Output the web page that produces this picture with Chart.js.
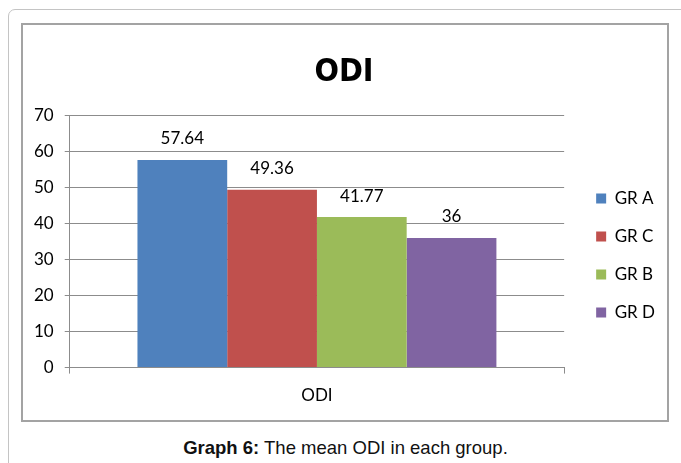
<!DOCTYPE html>
<html>
<head>
<meta charset="utf-8">
<script src="https://cdn.jsdelivr.net/npm/chart.js@4"></script>
<style>
  body { margin: 0; background: #fff; width: 681px; height: 463px; overflow: hidden; position: relative; }
  #frame { position: absolute; left: 8px; top: 9px; width: 720px; height: 520px; border: 1.5px solid #c4c4c4; border-radius: 7px; }
  #box { position: absolute; left: 21px; top: 23px; width: 648px; height: 399px; border: 2px solid #a3a3a3; box-sizing: border-box; }
  #chart { position: absolute; left: -2px; top: 0; }
  #caption { position: absolute; left: 5px; width: 681px; top: 437px; text-align: center;
             font-family: "Liberation Sans", Arial, sans-serif; font-size: 18.5px; color: #111; }
</style>
</head>
<body>
<div id="frame"></div>
<div id="box"><canvas id="chart" width="644" height="395"></canvas></div>
<div id="caption"><b>Graph 6:</b> The mean ODI in each group.</div>
<script>
const categories = ['ODI'];
const groups = ['GR A', 'GR C', 'GR B', 'GR D'];
const means = [57.64, 49.36, 41.77, 36];
const colors = ['#4f81bd', '#c0504d', '#9bbb59', '#8064a2'];
const yTicks = [0, 10, 20, 30, 40, 50, 60, 70];

const font = '"Lato", "Open Sans", sans-serif';

// value labels above every bar
const barLabels = {
    id: 'barLabels',
    afterDatasetsDraw(chart) {
        const ctx = chart.ctx;
        ctx.save();
        ctx.font = '17px ' + font;
        ctx.fillStyle = '#000';
        ctx.textAlign = 'center';
        ctx.textBaseline = 'middle';
        chart.data.datasets.forEach((ds, i) => {
            chart.getDatasetMeta(i).data.forEach((bar, j) => {
                ctx.fillText(String(ds.data[j]), bar.x, bar.y - 21);
            });
        });
        ctx.restore();
    }
};

new Chart(document.getElementById('chart'), {
    type: 'bar',
    data: {
        labels: categories,
        datasets: groups.map((g, i) => ({
            label: g,
            data: [means[i]],
            backgroundColor: colors[i],
            borderWidth: 0
        }))
    },
    options: {
        responsive: false,
        animation: false,
        devicePixelRatio: 1,
        categoryPercentage: 0.726,
        barPercentage: 1,
        layout: { padding: { left: 2, right: 0, top: 0, bottom: 2 } },
        plugins: {
            title: {
                display: true,
                text: 'ODI',
                color: '#000',
                font: { family: '"Liberation Sans Narrow", "DejaVu Sans Condensed", sans-serif', size: 32, weight: 'bold' },
                padding: { top: 28, bottom: 24 }
            },
            legend: {
                position: 'right',
                title: { display: true, text: '', font: { size: 10 }, padding: { top: 27, bottom: 29 } },
                labels: {
                    boxWidth: 10,
                    boxHeight: 10,
                    padding: 21,
                    color: '#000',
                    font: { family: font, size: 17 }
                }
            },
            tooltip: { enabled: false }
        },
        scales: {
            x: {
                grid: {
                    display: true,
                    drawOnChartArea: false,
                    offset: true,
                    tickLength: 6,
                    color: '#8c8c8c'
                },
                border: { color: '#8c8c8c', width: 1 },
                ticks: {
                    color: '#000',
                    padding: 12,
                    font: { family: font, size: 17 }
                }
            },
            y: {
                min: yTicks[0],
                max: yTicks[yTicks.length - 1],
                afterBuildTicks: scale => { scale.ticks = yTicks.map(v => ({ value: v })); },
                grid: { color: '#8c8c8c', tickLength: 5 },
                border: { color: '#8c8c8c', width: 1 },
                ticks: {
                    color: '#000',
                    padding: 11,
                    font: { family: font, size: 17 }
                }
            },
            gap: {
                type: 'linear',
                position: 'right',
                display: true,
                grid: { display: false },
                border: { display: false },
                ticks: { display: false },
                afterFit: scale => { scale.width = 11; }
            }
        }
    },
    plugins: [barLabels]
});
</script>
</body>
</html>
